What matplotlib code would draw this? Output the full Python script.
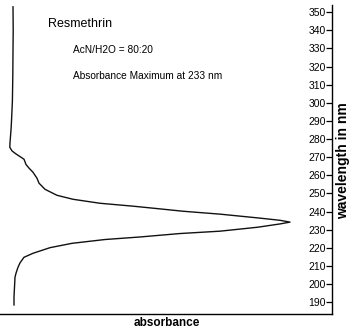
import matplotlib.pyplot as plt
import numpy as np

plt.rcParams['font.family'] = ['Liberation Sans', 'DejaVu Sans']

# UV spectrum of resmethrin, wavelength (nm) vs. absorbance (peak = 1)
wavelength = [353, 340, 329, 315, 301, 290, 285, 278, 275.5, 273.5, 272, 270,
              268.9, 267.5, 266, 264, 261.7, 258.4, 255.7, 252.3, 249.0, 246.8,
              244.6, 243.0, 241.5, 240.2, 238.6, 236.4, 235.2, 234.2, 233.2,
              231.4, 229.2, 227.9, 226, 224.6, 222.5, 220.1, 217.0, 214.8,
              211.7, 209.3, 206, 203.8, 198.3, 193, 188.5]
absorbance = [13, 13.2, 13, 12.8, 12.4, 11.5, 11, 10, 9.8, 12, 15.5, 21,
              24, 25, 26, 29, 33, 37, 39, 45, 57, 73,
              100, 133, 160, 183, 220, 260, 280, 290, 280,
              258, 220, 180, 140, 105, 72, 50, 33, 24,
              20, 18, 16, 15, 14.5, 14, 14]
absorbance = np.array(absorbance) / 290.0
yticks = list(range(190, 351, 10))

fig = plt.figure(figsize=(3.53, 3.34), dpi=100)
ax = fig.add_axes([0, 20 / 334, 332 / 353, 309 / 334])

ax.plot(absorbance, wavelength, color='#111111', lw=1.0)

ax.set_xlim(0, 332 / 290)
ax.set_ylim(183.5, 354)
ax.set_xticks([])
ax.set_yticks(yticks)

for side in ['top', 'left']:
    ax.spines[side].set_visible(False)
for side in ['bottom', 'right']:
    ax.spines[side].set_linewidth(1.0)

ax.yaxis.set_ticks_position('right')
ax.tick_params(axis='y', direction='in', length=4, width=0.9,
               labelsize=7.5, pad=-4.3)
for lab in ax.get_yticklabels():
    lab.set_horizontalalignment('right')

fig.text(48 / 353, 1 - 24 / 334, 'Resmethrin', fontsize=9, va='center')
fig.text(73 / 353, 1 - 50 / 334, 'AcN/H2O = 80:20', fontsize=7.3, va='center')
fig.text(73 / 353, 1 - 76 / 334, 'Absorbance Maximum at 233 nm',
         fontsize=7.3, va='center')
fig.text(167 / 353, 1 - 323 / 334, 'absorbance', fontsize=8.5,
         fontweight='bold', ha='center', va='center')
fig.text(343 / 353, 1 - 161 / 334, 'wavelength in nm', fontsize=10,
         fontweight='bold', ha='center', va='center', rotation=90)

fig.savefig('out.png', dpi=100)
